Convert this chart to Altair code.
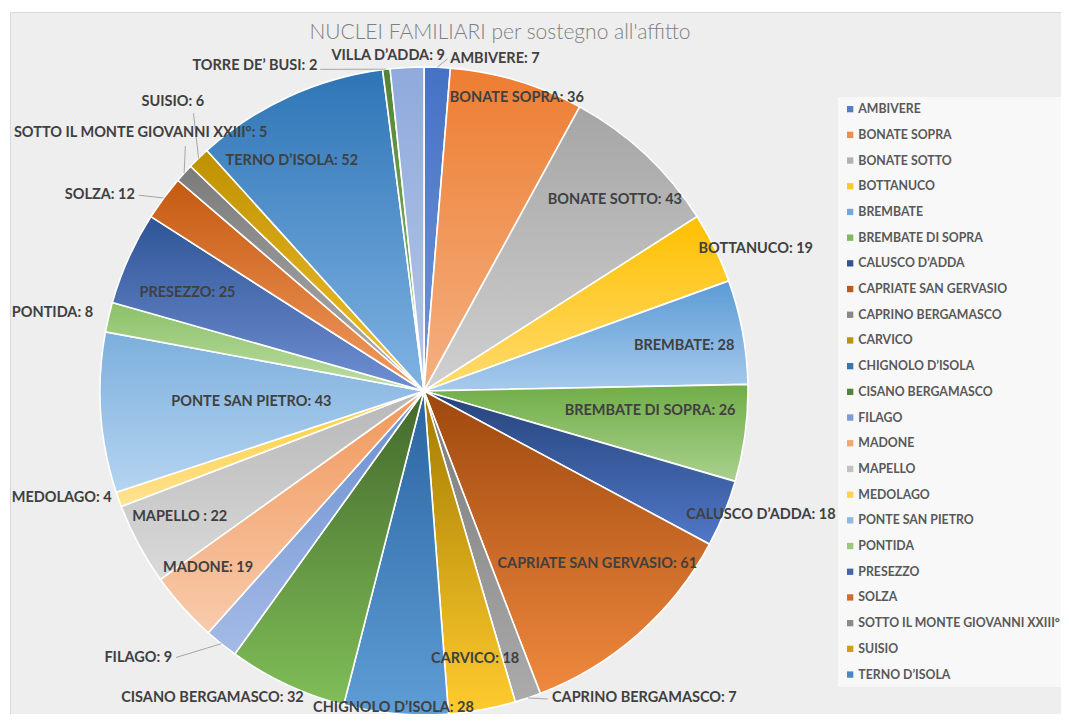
import altair as alt
import pandas as pd

TITLE = "NUCLEI FAMILIARI per sostegno all'affitto"

names = ["AMBIVERE", "BONATE SOPRA", "BONATE SOTTO", "BOTTANUCO", "BREMBATE",
         "BREMBATE DI SOPRA", "CALUSCO D’ADDA", "CAPRIATE SAN GERVASIO",
         "CAPRINO BERGAMASCO", "CARVICO", "CHIGNOLO D’ISOLA", "CISANO BERGAMASCO",
         "FILAGO", "MADONE", "MAPELLO", "MEDOLAGO", "PONTE SAN PIETRO", "PONTIDA",
         "PRESEZZO", "SOLZA", "SOTTO IL MONTE GIOVANNI XXIII°", "SUISIO",
         "TERNO D’ISOLA", "TORRE DE’ BUSI", "VILLA D’ADDA"]
values = [7, 36, 43, 19, 28, 26, 18, 61, 7, 18, 28, 32, 9, 19, 22, 4, 43, 8, 25,
          12, 5, 6, 52, 2, 9]
# names as written in the data labels
label_names = [n if n != "MAPELLO" else "MAPELLO " for n in names]
legend_names = names[:23]

top_colors = ["#4472C4", "#ED7D31", "#A5A5A5", "#FFC000", "#5B9BD5", "#70AD47",
              "#26437A", "#9E480E", "#7A7A7A", "#A17A00", "#2A64A0", "#43682B",
              "#698ED0", "#F1975A", "#B7B7B7", "#FFCD33", "#7CAFDD", "#8CC168",
              "#2F5597", "#C55A11", "#7B7B7B", "#BF9000", "#2E75B6", "#548235",
              "#8FAADC"]
bottom_colors = ["#7595D6", "#F4B183", "#D0D0D0", "#FFDB70", "#A7CAEC", "#A9D18E",
                 "#5078C8", "#F0893E", "#ABABAB", "#FFCB2E", "#5E9DD6", "#80BE58",
                 "#A5BBE6", "#F8CBAD", "#DADADA", "#FFE294", "#B5D4F0", "#BCDDA4",
                 "#6F8FD2", "#F29A60", "#B0B0B0", "#F2C230", "#80B3E3", "#8CC168",
                 "#B4C7E7"]

# ---- label layout (angle offset from slice middle in degrees, distance from centre in px, alignment)
label_aoff = [2.2, 0.9, 1.9, 3.0, 0.7, -2.4, -2.0, -3.6, -3.9, -0.45, 0.5, 9.5,
              4.6, 2.6, 0.9, 0.7, 0.2, 0.1, -1.7, -2.5, 16.5, 3.1, -5.2, -11.5, -3.1]
label_r = [333, 307, 270, 361, 264, 227, 359, 245, 333, 273, 318, 373,
           367, 279, 275, 330, 173, 340, 256, 349, 302, 383, 265, 342, 337]
label_align = ["left", "center", "center", "center", "center", "center", "center",
               "center", "left", "center", "center", "center", "right", "center",
               "center", "right", "center", "right", "center", "right", "right",
               "center", "center", "right", "center"]
leader_aoff = [1.7, 0, 0, 0, 0, 0, 0, 0, -3.2, 0, 0, 0, 4.2, 0, 0, 0, 0, 0, 0,
               -2.1, 3.5, 4.4, 0, -11.2, 0]
leader_r = [333, 0, 0, 0, 0, 0, 0, 0, 332, 0, 0, 0, 364, 0, 0, 0, 0, 0, 0,
            346, 342, 361, 0, 338, 0]

CX, CY, R = 414, 379, 324
W, H = 1051, 702
FONT = "Lato, Carlito, Liberation Sans, sans-serif"


def blend(c1, c2, t):
    a = [int(c1[i:i + 2], 16) for i in (1, 3, 5)]
    b = [int(c2[i:i + 2], 16) for i in (1, 3, 5)]
    return "#" + "".join(f"{round(x + (y - x) * t):02x}" for x, y in zip(a, b))


legend_colors = [blend(t, b, 0.3) for t, b in zip(top_colors, bottom_colors)][:23]

df = pd.DataFrame({
    "name": names,
    "value": values,
    "order": list(range(len(names))),
    "label": [f"{n}: {v}" for n, v in zip(label_names, values)],
    "aoff": label_aoff,
    "lr": label_r,
    "align": label_align,
    "laoff": leader_aoff,
    "llr": leader_r,
})

base = (
    alt.Chart(df)
    .transform_window(cum="sum(value)", sort=[alt.SortField("order")])
    .transform_joinaggregate(total="sum(value)")
    .transform_calculate(
        start="datum.cum - datum.value",
        mid="(datum.cum - datum.value / 2) / datum.total * 360",
    )
)

tscale = alt.Scale(domain=[0, sum(values)], range=[0, 6.283185307179586])

arc_layers = []
for i in range(len(names)):
    grad = alt.LinearGradient(
        gradient="linear",
        stops=[alt.GradientStop(color=top_colors[i], offset=0),
               alt.GradientStop(color=bottom_colors[i], offset=1)],
        x1=0, x2=0, y1=0, y2=1,
    )
    arc_layers.append(
        base.transform_filter(f"datum.order == {i}")
        .mark_arc(fill=grad, outerRadius=R, stroke="white", strokeWidth=1.6)
        .encode(
            theta=alt.Theta("start:Q", scale=tscale, stack=None),
            theta2=alt.Theta2("cum:Q"),
            x=alt.value(CX),
            y=alt.value(CY),
        )
    )

pos = base.transform_calculate(
    lx=f"{CX} + datum.lr * sin((datum.mid + datum.aoff) * PI / 180)",
    ly=f"{CY} - datum.lr * cos((datum.mid + datum.aoff) * PI / 180)",
    rx1=f"{CX} + {R} * sin(datum.mid * PI / 180)",
    ry1=f"{CY} - {R} * cos(datum.mid * PI / 180)",
    rx2=f"{CX} + datum.llr * sin((datum.mid + datum.laoff) * PI / 180)",
    ry2=f"{CY} - datum.llr * cos((datum.mid + datum.laoff) * PI / 180)",
)

leaders = (
    pos.transform_filter("datum.llr > 0")
    .mark_rule(color="#a6a6a6", strokeWidth=1)
    .encode(
        x=alt.X("rx1:Q", scale=None, axis=None),
        y=alt.Y("ry1:Q", scale=None, axis=None),
        x2="rx2:Q",
        y2="ry2:Q",
    )
)

text_layers = []
for a in ["left", "center", "right"]:
    text_layers.append(
        pos.transform_filter(f"datum.align == '{a}'")
        .mark_text(align=a, baseline="middle", font=FONT, fontSize=14.5,
                   fontWeight="bold", color="#404040")
        .encode(
            x=alt.X("lx:Q", scale=None, axis=None),
            y=alt.Y("ly:Q", scale=None, axis=None),
            text="label:N",
        )
    )

title_layer = (
    alt.Chart(pd.DataFrame({"t": [TITLE]}))
    .mark_text(font=FONT, fontSize=21, fontWeight=300, color="#7f7f7f",
               align="center", baseline="middle")
    .encode(text="t:N", x=alt.value(490), y=alt.value(21))
)

legend_layer = (
    alt.Chart(df)
    .mark_square(opacity=0, size=1)
    .encode(
        color=alt.Color(
            "name:N",
            scale=alt.Scale(domain=legend_names, range=legend_colors),
            legend=alt.Legend(
                title=None, orient="none", legendX=828, legendY=85,
                labelFont=FONT, labelFontSize=12.3, labelFontWeight="bold",
                labelColor="#595959", symbolType="square", symbolSize=40,
                symbolOpacity=1, symbolStrokeWidth=0, rowPadding=12.7,
                padding=6, fillColor="#f8f8f8", labelOffset=2, labelLimit=400,
            ),
        ),
        x=alt.value(0),
        y=alt.value(0),
    )
)

chart = (
    alt.layer(*arc_layers, leaders, *text_layers, title_layer, legend_layer)
    .properties(
        width=W, height=H,
        padding={"left": 2, "top": 4, "right": 0, "bottom": 0},
        autosize=alt.AutoSizeParams(type="none"),
        background="white",
    )
    .configure_view(fill="#eeeeee", stroke="#d9d9d9", strokeWidth=1)
)

chart.save("out.html", embed_options={"renderer": "svg", "actions": False})
